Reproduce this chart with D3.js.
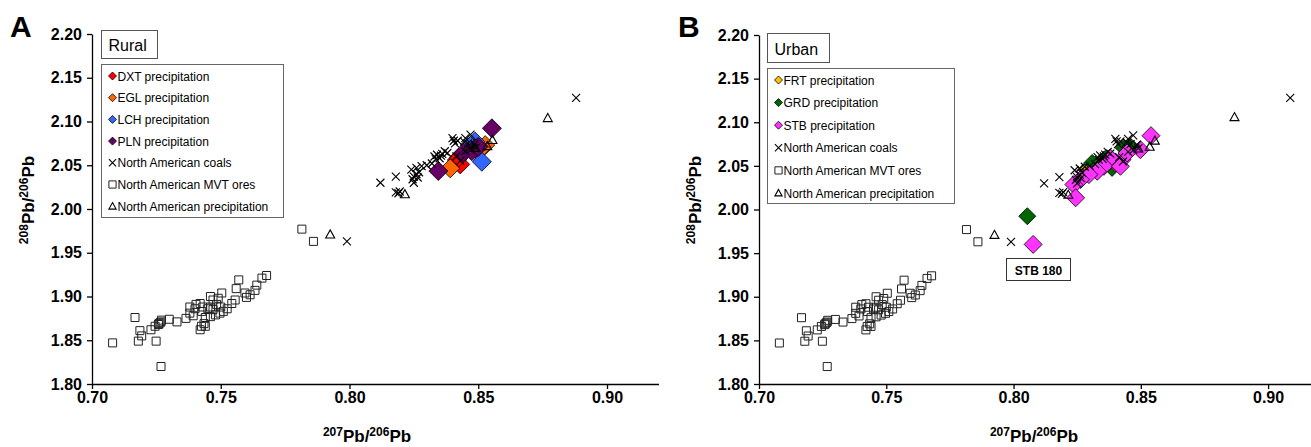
<!DOCTYPE html>
<html>
<head>
<meta charset="utf-8">
<script src="https://cdn.jsdelivr.net/npm/d3@7"></script>
<style>
  body { margin: 0; background: #fff; }
  svg text { font-family: "Liberation Sans", Arial, sans-serif; }
</style>
</head>
<body>
<div id="chart"></div>
<script>
// tick values
const xTicks = [0.70, 0.75, 0.80, 0.85, 0.90];
const yTicks = [1.80, 1.85, 1.90, 1.95, 2.00, 2.05, 2.10, 2.15, 2.20];

// North American reference data (same in both panels)
const mvtOres = [
  [0.708,1.847],[0.7268,1.820],[0.7167,1.876],[0.7186,1.861],[0.718,1.849],[0.7193,1.855],
  [0.7249,1.849],[0.7229,1.862],[0.7245,1.866],[0.726,1.869],[0.7264,1.870],[0.7268,1.871],
  [0.7258,1.868],[0.727,1.873],[0.730,1.874],[0.733,1.871],[0.7365,1.875],[0.738,1.888],
  [0.7393,1.878],[0.740,1.886],[0.742,1.892],[0.743,1.888],[0.7426,1.883],[0.744,1.876],
  [0.742,1.862],[0.744,1.866],[0.746,1.888],[0.746,1.900],[0.747,1.885],[0.7484,1.891],
  [0.749,1.898],[0.7504,1.904],[0.7497,1.881],[0.748,1.879],[0.746,1.877],[0.751,1.883],
  [0.7543,1.892],[0.7556,1.896],[0.756,1.909],[0.757,1.919],[0.7594,1.904],[0.760,1.899],
  [0.7614,1.902],[0.7633,1.907],[0.764,1.913],[0.766,1.921],[0.7678,1.924],[0.7404,1.891],
  [0.738,1.881],[0.745,1.886],[0.747,1.896],[0.7425,1.866],[0.7435,1.869],[0.750,1.888],
  [0.7525,1.886],[0.7815,1.977],[0.786,1.963]
];
const coals = [
  [0.799,1.963],[0.812,2.030],[0.818,2.037],[0.818,2.019],[0.819,2.018],[0.8195,2.020],
  [0.824,2.045],[0.825,2.037],[0.826,2.040],[0.826,2.047],[0.825,2.030],[0.827,2.042],
  [0.828,2.049],[0.830,2.050],[0.832,2.052],[0.833,2.060],[0.834,2.062],[0.836,2.063],
  [0.837,2.066],[0.835,2.058],[0.838,2.064],[0.840,2.081],[0.841,2.075],[0.842,2.078],
  [0.845,2.081],[0.847,2.085],[0.846,2.075],[0.843,2.055],[0.847,2.068],[0.849,2.070],
  [0.8245,2.034],[0.8265,2.036],[0.8335,2.057],[0.8355,2.061],[0.8405,2.078],[0.8445,2.077],
  [0.8415,2.060],[0.845,2.066],[0.8485,2.074]
];
const precipNA = [[0.7925,1.971],[0.8215,2.017],[0.8555,2.079],[0.8535,2.072],[0.849,2.070]];
const coalsFarA = [[0.888,2.127]];
const coalsFarB = [[0.9087,2.128]];
const precipFarA = [[0.877,2.104]];
const precipFarB = [[0.8868,2.106]];

// rural sites (panel A)
const dxt = [[0.8417,2.056],[0.843,2.051],[0.8425,2.059]];
const egl = [[0.8391,2.0465],[0.8527,2.073],[0.851,2.069]];
const lch = [[0.8488,2.077],[0.8514,2.054],[0.847,2.072]];
const pln = [[0.8553,2.0922],[0.8345,2.0434],[0.8443,2.0644],[0.8488,2.0694],[0.8475,2.066],[0.850,2.071]];

// urban sites (panel B)
const frt = [[0.8276,2.0457],[0.829,2.048]];
const grd = [[0.8433,2.0705],[0.8387,2.0477],[0.8309,2.0534],[0.8054,1.9923],[0.836,2.058],[0.846,2.072]];
const stb = [[0.854,2.0846],[0.8498,2.0686],[0.8426,2.0571],[0.840,2.0534],[0.838,2.059],[0.8355,2.0495],
  [0.8329,2.0438],[0.8296,2.040],[0.8263,2.0343],[0.8237,2.0286],[0.8244,2.0134],[0.8446,2.0648],
  [0.842,2.0495],[0.8077,1.960]];

const W = 1311, H = 447;
const svg = d3.select("#chart").append("svg").attr("width", W).attr("height", H);

function diamondPath(r) { return `M0,${-r}L${r},0L0,${r}L${-r},0Z`; }
function crossPath(r) { return `M${-r},${-r}L${r},${r}M${-r},${r}L${r},${-r}`; }
function squarePath(r) { return `M${-r},${-r}H${r}V${r}H${-r}Z`; }
function trianglePath(r) { return `M0,${-r}L${r},${r*0.8}H${-r}Z`; }

function drawMarker(g, type, color, size) {
  if (type == "diamond") {
    g.append("path").attr("d", diamondPath(size)).attr("fill", color)
      .attr("stroke", "#000").attr("stroke-width", 0.8);
  } else if (type == "cross") {
    g.append("path").attr("d", crossPath(size)).attr("fill", "none")
      .attr("stroke", "#000").attr("stroke-width", 1.1);
  } else if (type == "square") {
    g.append("path").attr("d", squarePath(size)).attr("fill", "none")
      .attr("stroke", "#222").attr("stroke-width", 1);
  } else {
    g.append("path").attr("d", trianglePath(size)).attr("fill", "none")
      .attr("stroke", "#000").attr("stroke-width", 1.1);
  }
}

function superText(sel, parts, sup) {
  // parts: [sup, base, sup, base]
  sel.append("tspan").attr("font-size", sup).attr("dy", "-6").text(parts[0]);
  sel.append("tspan").attr("dy", "6").text(parts[1]);
  sel.append("tspan").attr("font-size", sup).attr("dy", "-6").text(parts[2]);
  sel.append("tspan").attr("dy", "6").text(parts[3]);
}

function drawPanel(p) {
  const g = svg.append("g");
  const x = d3.scaleLinear().domain([0.70, 0.92]).range(p.xRange);
  const y = d3.scaleLinear().domain([1.80, 2.20]).range(p.yRange);

  // axes
  const yAx = g.append("g").attr("transform", `translate(${p.xRange[0]},0)`)
    .call(d3.axisLeft(y).tickValues(yTicks).tickFormat(d3.format(".2f")).tickSize(5).tickSizeOuter(0).tickPadding(5));
  const xAx = g.append("g").attr("transform", `translate(0,${p.yRange[0]})`)
    .call(d3.axisBottom(x).tickValues(xTicks).tickFormat(d3.format(".2f")).tickSize(5).tickSizeOuter(0).tickPadding(3));
  [yAx, xAx].forEach(a => {
    a.selectAll("path,line").attr("stroke", "#000").attr("stroke-width", 1.3);
    a.selectAll("text").attr("font-size", "16px").attr("font-weight", "bold").attr("fill", "#000")
      .style("font-family", '"Liberation Sans", Arial, sans-serif');
  });

  // data series, in drawing order
  p.series.forEach(s => {
    s.data.forEach(d => {
      const m = g.append("g").attr("transform", `translate(${x(d[0])},${y(d[1])})`);
      drawMarker(m, s.type, s.color, s.size);
    });
  });

  // panel letter
  g.append("text").attr("x", p.letterX).attr("y", 37).attr("font-size", "30px")
    .attr("font-weight", "bold").text(p.letter);

  // axis titles
  const yt = g.append("text").attr("transform", `translate(${p.xRange[0] - 58},${200}) rotate(-90)`)
    .attr("text-anchor", "middle").attr("font-size", "17px").attr("font-weight", "bold");
  superText(yt, ["208", "Pb/", "206", "Pb"], "12px");
  const xt = g.append("text").attr("x", p.xTitleX).attr("y", 442)
    .attr("text-anchor", "middle").attr("font-size", "17px").attr("font-weight", "bold");
  superText(xt, ["207", "Pb/", "206", "Pb"], "12px");

  // title box
  g.append("rect").attr("x", p.title.x).attr("y", p.title.y).attr("width", p.title.w).attr("height", p.title.h)
    .attr("fill", "#fff").attr("stroke", "#555").attr("stroke-width", 1);
  g.append("text").attr("x", p.title.x + 7).attr("y", p.title.y + p.title.h - 8)
    .attr("font-size", "16px").text(p.title.text);

  // legend
  const L = p.legend;
  g.append("rect").attr("x", L.x).attr("y", L.y).attr("width", L.w).attr("height", L.h)
    .attr("fill", "#fff").attr("stroke", "#666").attr("stroke-width", 1);
  L.items.forEach((it, i) => {
    const cy = L.y + L.first + i * L.step;
    const m = g.append("g").attr("transform", `translate(${L.x + 11},${cy})`);
    drawMarker(m, it.type, it.color, it.type == "diamond" ? 4 : 3.6);
    g.append("text").attr("x", L.x + 16).attr("y", cy + 4.5).attr("font-size", "12px").text(it.label);
  });

  if (p.note) {
    const n = p.note;
    g.append("rect").attr("x", n.x).attr("y", n.y).attr("width", n.w).attr("height", n.h)
      .attr("fill", "#fff").attr("stroke", "#333").attr("stroke-width", 1);
    g.append("text").attr("x", n.x + n.w / 2).attr("y", n.y + 16).attr("text-anchor", "middle")
      .attr("font-size", "12px").attr("font-weight", "bold").text(n.text);
  }
}

const naItems = [
  { type: "cross", label: "North American coals" },
  { type: "square", label: "North American MVT ores" },
  { type: "triangle", label: "North American precipitation" }
];

drawPanel({
  letter: "A", letterX: 10, xTitleX: 367,
  xRange: [92, 658.5], yRange: [384, 34],
  title: { text: "Rural", x: 101.5, y: 30.5, w: 56, h: 28 },
  legend: {
    x: 101.5, y: 64.5, w: 182, h: 153, first: 11.5, step: 21.7,
    items: [
      { type: "diamond", color: "#ff0000", label: "DXT precipitation" },
      { type: "diamond", color: "#ff6600", label: "EGL precipitation" },
      { type: "diamond", color: "#3366ff", label: "LCH precipitation" },
      { type: "diamond", color: "#660066", label: "PLN precipitation" }
    ].concat(naItems)
  },
  series: [
    { type: "diamond", color: "#ff0000", size: 9.5, data: dxt },
    { type: "diamond", color: "#ff6600", size: 9.5, data: egl },
    { type: "diamond", color: "#3366ff", size: 9.5, data: lch },
    { type: "diamond", color: "#660066", size: 9.5, data: pln },
    { type: "cross", size: 4, data: coals.concat(coalsFarA) },
    { type: "square", size: 4, data: mvtOres },
    { type: "triangle", size: 4.5, data: precipNA.concat(precipFarA) }
  ]
});

drawPanel({
  letter: "B", letterX: 678, xTitleX: 1034,
  xRange: [759, 1319], yRange: [384, 35],
  title: { text: "Urban", x: 767.5, y: 33.5, w: 62, h: 29 },
  legend: {
    x: 767.5, y: 68.5, w: 187, h: 135, first: 11.5, step: 22.6,
    items: [
      { type: "diamond", color: "#ffc000", label: "FRT precipitation" },
      { type: "diamond", color: "#006600", label: "GRD precipitation" },
      { type: "diamond", color: "#ff33ff", label: "STB precipitation" }
    ].concat(naItems)
  },
  series: [
    { type: "diamond", color: "#ffc000", size: 6, data: frt },
    { type: "diamond", color: "#006600", size: 8.5, data: grd },
    { type: "diamond", color: "#ff33ff", size: 9, data: stb },
    { type: "cross", size: 4, data: coals.concat(coalsFarB) },
    { type: "square", size: 4, data: mvtOres },
    { type: "triangle", size: 4.5, data: precipNA.concat(precipFarB) }
  ],
  note: { text: "STB 180", x: 1006.5, y: 258.5, w: 64, h: 22 }
});
</script>
</body>
</html>
